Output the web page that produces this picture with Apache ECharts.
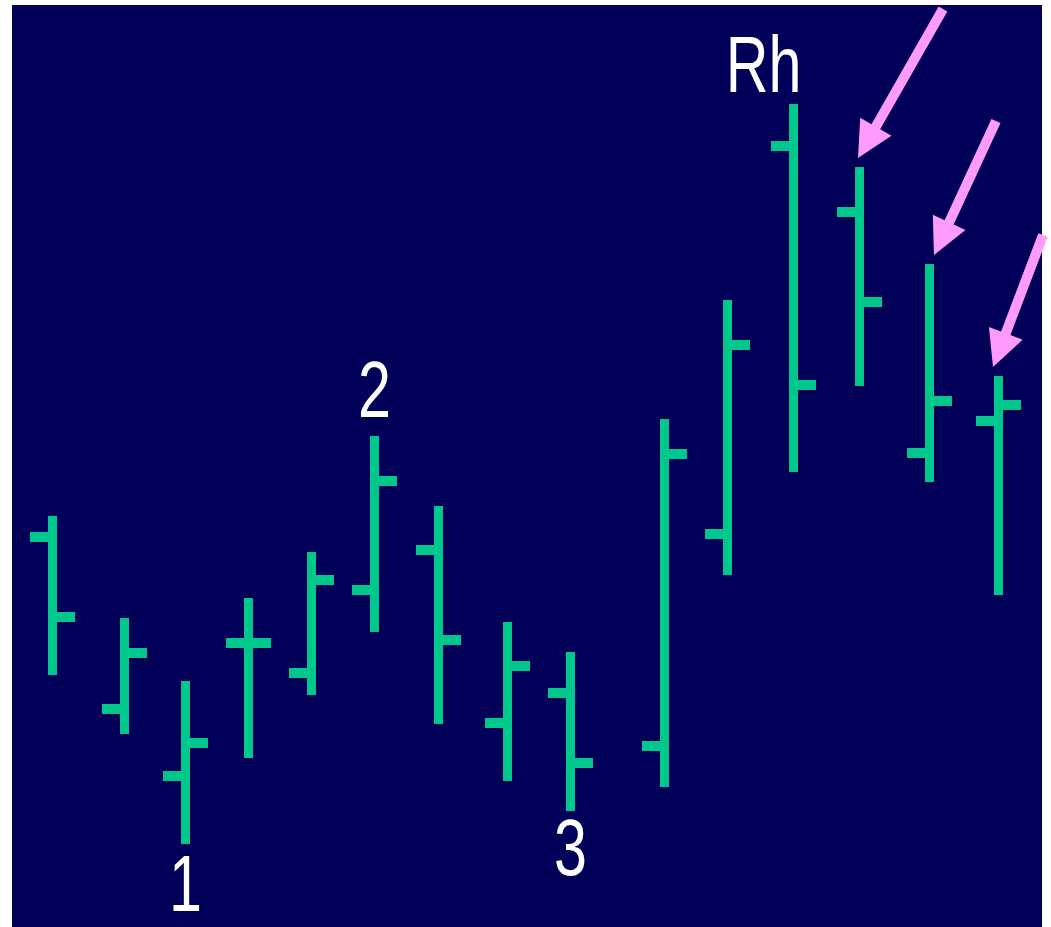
<!DOCTYPE html>
<html>
<head>
<meta charset="utf-8">
<script src="https://cdn.jsdelivr.net/npm/echarts@6/dist/echarts.min.js"></script>
<style>
  html, body { margin: 0; padding: 0; background: #ffffff; }
  #chart { width: 1051px; height: 927px; }
</style>
</head>
<body>
<div id="chart"></div>
<script>
// ---- data (price units, session positions) ----
const positions = [4.05, 11.25, 17.35, 23.65, 29.95, 36.25, 42.65, 49.55, 55.85, 65.25, 71.55, 78.15, 84.75, 91.75, 98.65];
const opens  = [39.0, 21.8, 15.1, 28.4, 25.4, 33.7, 37.7, 20.4, 23.4, 18.1, 39.3, 78.1, 71.5, 47.4, 50.6];
const highs  = [41.1, 30.9, 24.6, 32.9, 37.5, 49.1, 42.1, 30.5, 27.5, 50.8, 62.7, 82.3, 76.0, 66.3, 55.1];
const lows   = [25.2, 19.3,  8.3, 16.9, 23.2, 29.5, 20.3, 14.6, 11.6, 14.0, 35.2, 45.5, 54.1, 44.5, 33.2];
const closes = [31.0, 27.4, 18.4, 28.4, 34.7, 44.6, 28.7, 26.1, 16.4, 47.3, 58.2, 54.2, 62.5, 52.6, 52.2];

// annotations
const labelTexts = ['1', '2', '3', 'Rh'];
const labelBars  = [2, 5, 8, 11];
const labelSides = ['below', 'above', 'below', 'above'];
const arrowBars  = [12, 13, 14];

// ---- styles ----
const NAVY = '#000058';
const GREEN = '#00C88C';
const PINK = '#FF9BFF';
const BAR_W = 9, TICK_LEN = 18, TICK_H = 10;

const seriesData = positions.map((p, i) => [p, opens[i], highs[i], lows[i], closes[i]]);

const chart = echarts.init(document.getElementById('chart'), null, { renderer: 'canvas' });

function renderItem(params, api) {
  const x = api.value(0);
  const o = api.coord([x, api.value(1)]);
  const h = api.coord([x, api.value(2)]);
  const l = api.coord([x, api.value(3)]);
  const c = api.coord([x, api.value(4)]);
  const cx = h[0];
  const st = { fill: GREEN };
  return {
    type: 'group',
    children: [
      { type: 'rect', shape: { x: cx - BAR_W / 2, y: h[1], width: BAR_W, height: l[1] - h[1] }, style: st },
      { type: 'rect', shape: { x: cx - BAR_W / 2 - TICK_LEN, y: o[1] - TICK_H / 2, width: TICK_LEN + 1, height: TICK_H }, style: st },
      { type: 'rect', shape: { x: cx + BAR_W / 2 - 1, y: c[1] - TICK_H / 2, width: TICK_LEN + 1, height: TICK_H }, style: st }
    ]
  };
}

chart.setOption({
  animation: false,
  backgroundColor: '#ffffff',
  grid: { left: 12, right: 9, top: 5, bottom: 0, show: true, backgroundColor: NAVY, borderWidth: 0 },
  xAxis: { type: 'value', min: 0, max: 103, show: false },
  yAxis: { type: 'value', min: 0, max: 92.2, show: false },
  series: [{
    type: 'custom',
    renderItem: renderItem,
    data: seriesData,
    clip: false,
    silent: true
  }]
});

// ---- annotations placed from data coordinates ----
const graphics = [];
const FONT = '79px "Liberation Sans", Arial, sans-serif';
labelTexts.forEach((t, k) => {
  const i = labelBars[k];
  const above = labelSides[k] === 'above';
  const pt = chart.convertToPixel({ gridIndex: 0 }, [positions[i], above ? highs[i] : lows[i]]);
  let dx = 0;
  if (t === 'Rh') dx = -30;
  let dy;
  if (t === '1') dy = 45; else if (t === '2') dy = -41; else if (t === '3') dy = 42; else dy = -34;
  graphics.push({
    type: 'text',
    x: pt[0] + dx,
    y: pt[1] + dy,
    scaleX: 0.75,
    silent: true,
    style: { text: t, fill: '#ffffff', font: FONT, align: 'center', verticalAlign: 'middle' }
  });
});

const arrowGeom = [
  { tail: [85, -149], dx: -1.5 },
  { tail: [62, -134], dx: 4.5 },
  { tail: [50, -132], dx: -5.5 }
];
arrowBars.forEach((i, k) => {
  const pt = chart.convertToPixel({ gridIndex: 0 }, [positions[i], highs[i]]);
  const g = arrowGeom[k];
  const T = [pt[0] + g.dx, pt[1] - 9];
  const P = [T[0] + g.tail[0], T[1] + g.tail[1]];
  const len = Math.hypot(g.tail[0], g.tail[1]);
  const u = [-g.tail[0] / len, -g.tail[1] / len];
  const n = [-u[1], u[0]];
  const HL = 36, HW = 18, SW = 5;
  const B = [T[0] - HL * u[0], T[1] - HL * u[1]];
  const pts = [
    [P[0] + SW * n[0], P[1] + SW * n[1]],
    [B[0] + SW * n[0], B[1] + SW * n[1]],
    [B[0] + HW * n[0], B[1] + HW * n[1]],
    T,
    [B[0] - HW * n[0], B[1] - HW * n[1]],
    [B[0] - SW * n[0], B[1] - SW * n[1]],
    [P[0] - SW * n[0], P[1] - SW * n[1]]
  ];
  graphics.push({ type: 'polygon', silent: true, shape: { points: pts }, style: { fill: PINK } });
});

chart.setOption({ graphic: graphics });
</script>
</body>
</html>
